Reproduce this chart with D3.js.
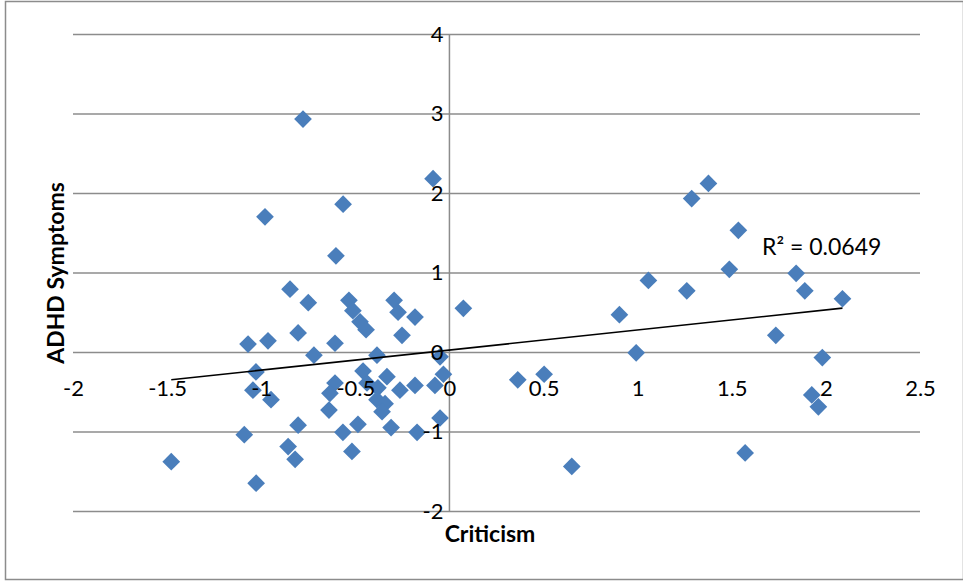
<!DOCTYPE html>
<html>
<head>
<meta charset="utf-8">
<script src="https://cdn.jsdelivr.net/npm/d3@7"></script>
<style>
  html, body { margin: 0; padding: 0; background: #fff; }
  svg { display: block; }
  text { font-family: Lato, "Open Sans", sans-serif; fill: #000; }
</style>
</head>
<body>
<svg id="chart" width="963" height="581"></svg>
<script>
// Criticism score of each participant
const criticism = [
  -1.478, -1.027, -1.09, -0.857, -0.82, -0.804, -1.07, -0.964, -1.028, -1.044,
  -0.948, -0.98, -0.847, -0.804, -0.75, -0.778, -0.72, -0.565, -0.603, -0.608,
  -0.534, -0.513, -0.475, -0.443, -0.294, -0.273, -0.183, -0.252, -0.385, -0.05,
  -0.087, -0.608, -0.635, -0.64, -0.566, -0.518, -0.486, -0.459, -0.332, -0.38,
  -0.385, -0.342, -0.358, -0.263, -0.183, -0.077, -0.032, -0.05, -0.31, -0.172,
  -0.438,
  0.074, 0.363, 0.503, 0.65,
  1.376, 1.287, 1.535, 1.487, 1.057, 1.261, 1.842, 1.888, 2.088, 0.903,
  1.734, 0.992, 1.981, 1.925, 1.96, 1.571
];
// ADHD symptom score of each participant (same order)
const adhd = [
  -1.38, -1.65, -1.04, -1.19, -1.35, -0.92, 0.10, 0.14, -0.25, -0.48,
  -0.60, 1.70, 0.79, 0.24, 0.62, 2.93, -0.04, 1.86, 1.21, 0.11,
  0.65, 0.52, 0.38, 0.28, 0.65, 0.50, 0.44, 0.21, -0.04, -0.06,
  2.18, -0.39, -0.52, -0.73, -1.01, -1.25, -0.91, -0.24, -0.31, -0.45,
  -0.60, -0.65, -0.75, -0.48, -0.42, -0.42, -0.28, -0.83, -0.95, -1.01,
  -0.39,
  0.55, -0.35, -0.28, -1.44,
  2.12, 1.93, 1.53, 1.04, 0.90, 0.77, 0.99, 0.77, 0.67, 0.47,
  0.21, -0.01, -0.07, -0.54, -0.69, -1.27
];
const xTicks = [-2, -1.5, -1, -0.5, 0, 0.5, 1, 1.5, 2, 2.5];
const yTicks = [-2, -1, 0, 1, 2, 3, 4];
const xTitle = "Criticism";
const yTitle = "ADHD Symptoms";
const r2Label = "R\u00B2 = 0.0649";

const svg = d3.select("#chart");
const W = 963, H = 581;

// tick text with a plain hyphen for negatives
const fmt = d => String(d);

// outer chart border
svg.append("rect")
  .attr("x", 5.5).attr("y", 1.5)
  .attr("width", W - 5).attr("height", H - 3)
  .attr("fill", "#fff").attr("stroke", "#8c8c8c").attr("stroke-width", 1.5);

const x = d3.scaleLinear().domain([-2, 2.5]).range([73, 920]);
const y = d3.scaleLinear().domain([-2, 4]).range([511, 34]);

const gridColor = "#8c8c8c";

// horizontal gridlines (the y = 0 line doubles as the x axis)
svg.append("g")
  .attr("transform", `translate(${x(-2)},0)`)
  .call(d3.axisLeft(y).tickValues(yTicks).tickSize(-(x(2.5) - x(-2))).tickFormat(""))
  .call(g => g.select(".domain").remove())
  .call(g => g.selectAll("line").attr("stroke", gridColor).attr("stroke-width", 1.5));

// vertical axis at x = 0
svg.append("line")
  .attr("x1", x(0)).attr("x2", x(0))
  .attr("y1", y(4)).attr("y2", y(-2))
  .attr("stroke", gridColor).attr("stroke-width", 1.5);

// linear least-squares trend line
const pts = criticism.map((c, i) => [c, adhd[i]]);
const mx = d3.mean(criticism), my = d3.mean(adhd);
const sxy = d3.sum(pts, p => (p[0] - mx) * (p[1] - my));
const sxx = d3.sum(pts, p => (p[0] - mx) ** 2);
const slope = sxy / sxx, intercept = my - slope * mx;
const [xmin, xmax] = d3.extent(criticism);

// markers
const diamond = d3.symbol().type(d3.symbolDiamond2).size(200);
svg.append("g")
  .selectAll("path")
  .data(pts)
  .join("path")
  .attr("transform", d => `translate(${x(d[0])},${y(d[1])})`)
  .attr("d", diamond)
  .attr("fill", "#4A7EBB");

svg.append("line")
  .attr("x1", x(xmin)).attr("y1", y(slope * xmin + intercept))
  .attr("x2", x(xmax)).attr("y2", y(slope * xmax + intercept))
  .attr("stroke", "#000").attr("stroke-width", 1.6);

// y tick labels beside the vertical axis, drawn above the markers
const yAxis = svg.append("g")
  .attr("transform", `translate(${x(0)},0)`)
  .call(d3.axisLeft(y).tickValues(yTicks).tickSize(0).tickPadding(6).tickFormat(fmt));
yAxis.select(".domain").remove();
yAxis.selectAll("text")
  .style("font-family", "Lato, sans-serif").style("font-size", "22px").attr("fill", "#000");

// x tick labels under the horizontal axis
const xAxis = svg.append("g")
  .attr("transform", `translate(0,${y(0)})`)
  .call(d3.axisBottom(x).tickValues(xTicks).tickSize(0).tickPadding(44).tickFormat(fmt));
xAxis.select(".domain").remove();
xAxis.selectAll("text")
  .attr("dy", "0")
  .style("font-family", "Lato, sans-serif").style("font-size", "22px").attr("fill", "#000");

// R-squared annotation
svg.append("text")
  .attr("x", 762).attr("y", 255)
  .style("font-size", "23px")
  .text(r2Label);

// axis titles
svg.append("text")
  .attr("x", 490).attr("y", 542)
  .attr("text-anchor", "middle")
  .style("font-size", "23px").style("font-weight", "bold")
  .text(xTitle);

svg.append("text")
  .attr("transform", `translate(64,273) rotate(-90)`)
  .attr("text-anchor", "middle")
  .style("font-size", "23px").style("font-weight", "bold")
  .text(yTitle);
</script>
</body>
</html>
